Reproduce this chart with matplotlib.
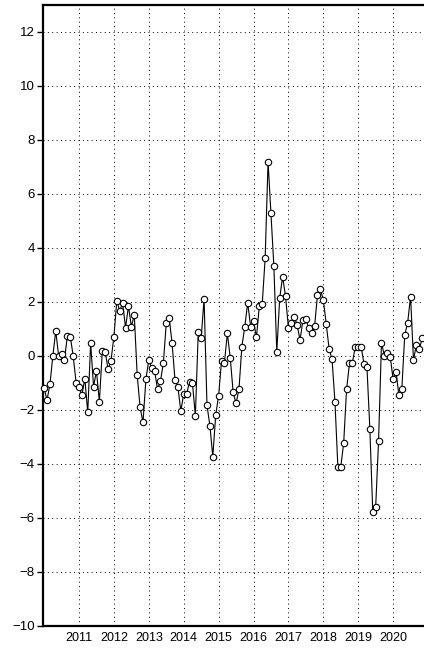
import matplotlib
matplotlib.use("Agg")
import matplotlib.pyplot as plt
import numpy as np

plt.rcParams['font.family'] = ['Liberation Sans', 'DejaVu Sans']

start_year = 2010
values = [
    -1.20, -1.63, -1.05, 0.00, 0.93, 0.00, 0.07, -0.15, 0.75, 0.72, 0.00, -0.99,   # 2010
    -1.15, -1.44, -0.84, -2.09, 0.47, -1.13, -0.56, -1.69, 0.17, 0.15, -0.49, -0.17,  # 2011
    0.72, 2.05, 1.67, 1.95, 1.05, 1.85, 1.09, 1.52, -0.70, -1.90, -2.46, -0.86,     # 2012
    -0.15, -0.46, -0.56, -1.23, -0.93, -0.27, 1.21, 1.42, 0.47, -0.89, -1.14, -2.04,  # 2013
    -1.40, -1.41, -0.95, -1.01, -2.22, 0.88, 0.65, 2.12, -1.83, -2.58, -3.73, -2.19,  # 2014
    -1.47, -0.19, -0.25, 0.84, -0.06, -1.35, -1.75, -1.23, 0.35, 1.09, 1.97, 1.09,    # 2015
    1.30, 0.69, 1.85, 1.93, 3.62, 7.20, 5.28, 3.33, 0.15, 2.14, 2.94, 2.22,           # 2016
    1.05, 1.23, 1.46, 1.15, 0.59, 1.33, 1.36, 1.02, 0.84, 1.11, 2.26, 2.48,           # 2017
    2.07, 1.19, 0.26, -0.12, -1.69, -4.10, -4.10, -3.23, -1.23, -0.27, -0.25, 0.35,   # 2018
    0.35, 0.35, -0.30, -0.40, -2.70, -5.77, -5.60, -3.14, 0.49, 0.01, 0.10, -0.02,   # 2019
    -0.86, -0.58, -1.46, -1.22, 0.78, 1.23, 2.20, -0.15, 0.41, 0.25, 0.65,           # 2020
]
x_years = [start_year + i / 12.0 for i in range(len(values))]

y_ticks = list(range(-10, 13, 2))
x_ticks = list(range(2011, 2021))
x_tick_labels = [str(y) for y in x_ticks]

fig = plt.figure(figsize=(4.24, 6.48), dpi=100)
ax = fig.add_axes([43/424, 22/648, 381/424, 621/648])

ax.plot(x_years, values, color='black', lw=0.8, marker='o', markersize=4.6,
        markerfacecolor='white', markeredgecolor='black', markeredgewidth=0.8,
        clip_on=False, zorder=3)

ax.set_xlim(2009.968, 2020.885)
ax.set_ylim(-10, 13)
ax.set_yticks(y_ticks)
ax.set_xticks(x_ticks)
ax.set_xticklabels(x_tick_labels)

ax.grid(True, color='black', linestyle=(0, (1, 3.5)), lw=0.7)
ax.set_axisbelow(True)

for s in ['left', 'bottom', 'top']:
    ax.spines[s].set_linewidth(1.6)
    ax.spines[s].set_color('black')
ax.spines['right'].set_visible(False)

ax.tick_params(axis='y', direction='out', length=4, width=1, labelsize=9.5, pad=2, colors='black')
ax.tick_params(axis='x', length=0, labelsize=9, pad=4, colors='black')

fig.savefig('out.png', dpi=100)
